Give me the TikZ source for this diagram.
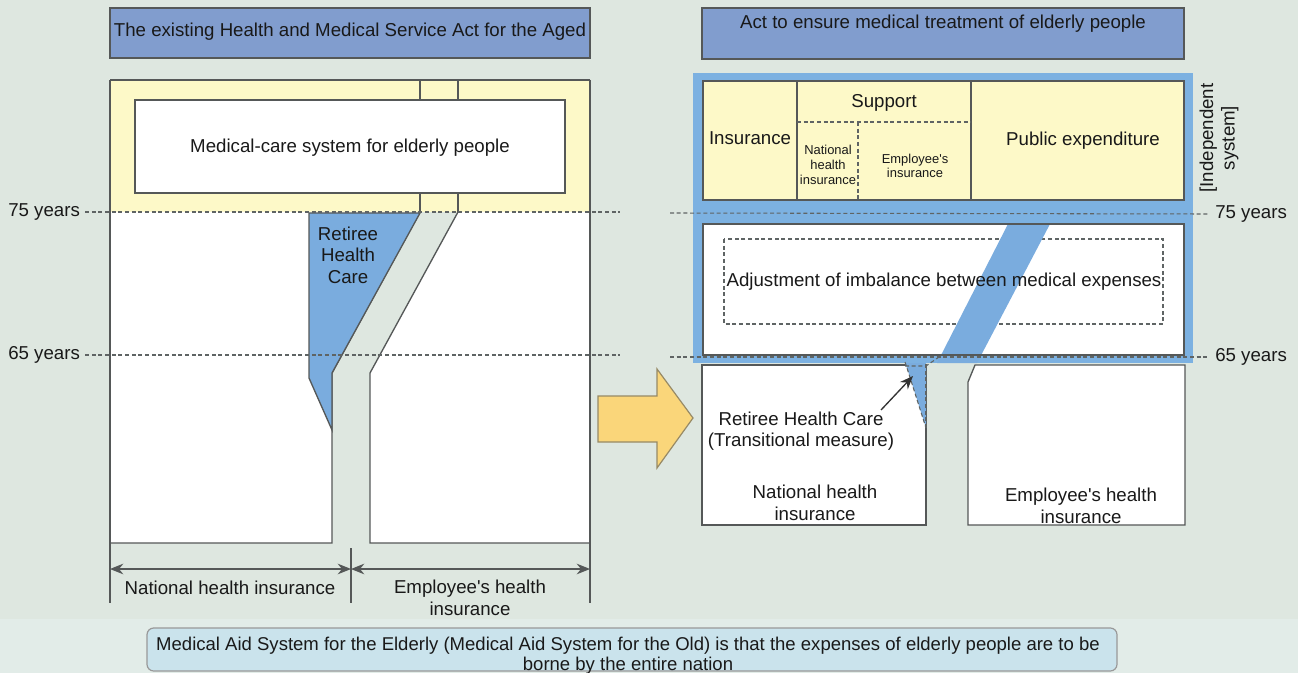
\documentclass[tikz,border=0pt]{standalone}
\usepackage{fontspec}
\setmainfont{Liberation Sans}[Ligatures=TeXOff]
\usetikzlibrary{arrows.meta}
\definecolor{bg}{RGB}{222,231,224}
\definecolor{bandc}{RGB}{226,236,232}
\definecolor{titlec}{RGB}{129,157,206}
\definecolor{yel}{RGB}{253,249,200}
\definecolor{bblue}{RGB}{122,172,222}
\definecolor{frame}{RGB}{124,177,225}
\definecolor{lnc}{RGB}{85,88,88}
\definecolor{dashc}{RGB}{95,100,100}
\definecolor{arrowc}{RGB}{250,214,122}
\definecolor{notec}{RGB}{202,227,236}
\tikzset{
  ln/.style={draw=lnc, line width=1pt},
  titlebox/.style={ln, fill=titlec},
  dashln/.style={draw=dashc, line width=0.8pt, dash pattern=on 3pt off 2pt},
  txt/.style={inner sep=0pt, align=center, text=black!90, font=\fontsize{14}{16.2}\selectfont},
  smalltxt/.style={inner sep=0pt, align=center, text=black!90, font=\fontsize{9.7}{11}\selectfont},
  dim/.style={draw=lnc, line width=0.9pt, {Stealth[length=10pt,width=8pt]}-{Stealth[length=10pt,width=8pt]}},
}
\begin{document}
\begin{tikzpicture}[x=0.75pt,y=-0.75pt]
\useasboundingbox (0,0) rectangle (1298,673);
\fill[bg] (0,0) rectangle (1298,673);
\fill[bandc] (0,619) rectangle (1298,673);

% ---------------- left part ----------------
\draw[titlebox] (110,8) rectangle (590,58);
\node[txt] (lt) at (350,32) {The existing Health and Medical Service Act for the Aged};

\fill[yel] (110,80) rectangle (590,212);
\draw[ln] (110,80) -- (590,80);
\draw[ln] (420,80) -- (420,212);
\draw[ln] (458,80) -- (458,212);
\draw[ln, fill=white] (135,100) rectangle (565,193);
\node[txt] (mcs) at (350,148) {Medical-care system for elderly people};

% columns
\fill[white] (110,212) -- (420,212) -- (332,373) -- (332,543) -- (110,543) -- cycle;
\fill[white] (458,212) -- (590,212) -- (590,543) -- (370,543) -- (370,373) -- cycle;
\draw[ln] (420,212) -- (332,373) -- (332,543) -- (110,543);
\draw[ln] (458,212) -- (370,373) -- (370,543) -- (590,543);
\draw[ln] (110,80) -- (110,603);
\draw[ln] (590,80) -- (590,603);
\draw[ln, fill=bblue] (309,213) -- (420,213) -- (332,373) -- (332,430) -- (309,378) -- cycle;
\node[txt] (rhc) at (348,255) {Retiree\\Health\\Care};

% age lines left
\node[txt, anchor=west] (l75) at (8,212) {75 years};
\node[txt, anchor=west] (l65) at (8,355) {65 years};
\coordinate (l75e) at (620,212);
\coordinate (l65e) at (620,355);
\draw[dashln] (l75.east) ++(5,0) -- (l75e);
\draw[dashln] (l65.east) ++(5,0) -- (l65e);

% dimension lines
\draw[ln] (351,548) -- (351,603);
\coordinate (dL) at (110,569);
\coordinate (dM) at (351,569);
\coordinate (dR) at (590,569);
\draw[dim] (dL) -- (dM);
\draw[dim] (dM) -- (dR);
\node[txt] (nhiL) at (230,588) {National health insurance};
\node[txt] (ehiL) at (470,598) {Employee's health\\insurance};

% big arrow
\draw[draw=lnc!60!arrowc, line width=0.9pt, fill=arrowc] (598,396) -- (657,396) -- (657,369) -- (693,418) -- (657,468) -- (657,442) -- (598,442) -- cycle;

% ---------------- right part ----------------
\draw[titlebox] (702,8) rectangle (1184,59);
\node[txt] (rt) at (943,24) {Act to ensure medical treatment of elderly people};

\fill[frame] (693,73) rectangle (1193,363);
\draw[ln, fill=yel] (703,81) rectangle (1184,200);
\draw[ln] (797,81) -- (797,200);
\draw[ln] (971,81) -- (971,200);
\draw[dashln] (797,122) -- (971,122);
\draw[dashln] (858,122) -- (858,200);
\node[txt] (ins) at (750,138) {Insurance};
\node[txt] (sup) at (884,103) {Support};
\node[txt] (pub) at (1083,141) {Public expenditure};
\node[smalltxt] (snhi) at (828,165) {National\\health\\insurance};
\node[smalltxt] (semp) at (915,166) {Employee's\\insurance};
\node[txt, rotate=90] (indep) at (1219,138) {[Independent\\system]};

\draw[ln, fill=white] (703,224) rectangle (1184,355);
\draw[dashln] (724,239) rectangle (1163,324);
\fill[bblue] (1008,224) -- (1050,224) -- (977,363) -- (937,363) -- cycle;
\draw[ln] (703,224) rectangle (1184,355);
\node[txt] (adj) at (944,282) {Adjustment of imbalance between medical expenses};

% lower boxes
\draw[ln, fill=white] (702,365) rectangle (926,525);
\draw[ln, fill=white] (975,365) -- (1185,365) -- (1185,525) -- (968,525) -- (968,382) -- cycle;
\fill[bblue] (905,363) -- (926,363) -- (926,428) -- (907,368) -- cycle;
\draw[dashln] (905,362) -- (907,368) -- (926,428);
\draw[dashln] (926,364) -- (926,428);
\draw[dashln] (905,366) -- (926,366) -- (939,357);

\node[txt] (rhct) at (801,431) {Retiree Health Care\\(Transitional measure)};
\coordinate (rhctip) at (913,376);
\draw[draw=black!80, line width=1pt, -{Stealth[length=10pt,width=8pt]}] (881,410) -- (rhctip);
\node[txt] (nhiR) at (815,503) {National health\\insurance};
\node[txt] (ehiR) at (1081,506) {Employee's health\\insurance};

% age lines right
\node[txt, anchor=west] (r75) at (1215,214) {75 years};
\node[txt, anchor=west] (r65) at (1215,357) {65 years};
\coordinate (r75s) at (670,213);
\coordinate (r65s) at (670,357);
\draw[dashln] (r75s) -- ([xshift=-4pt]r75.west);
\draw[dashln] (r65s) -- ([xshift=-4pt]r65.west);

% ---------------- bottom note ----------------
\draw[draw=black!40, line width=0.9pt, fill=notec, rounded corners=5pt] (147,628) rectangle (1117,671);
\node[txt, font=\fontsize{13.9}{15}\selectfont] (note) at (628,656) {Medical Aid System for the Elderly (Medical Aid System for the Old) is that the expenses of elderly people are to be\\borne by the entire nation};
\end{tikzpicture}
\end{document}
